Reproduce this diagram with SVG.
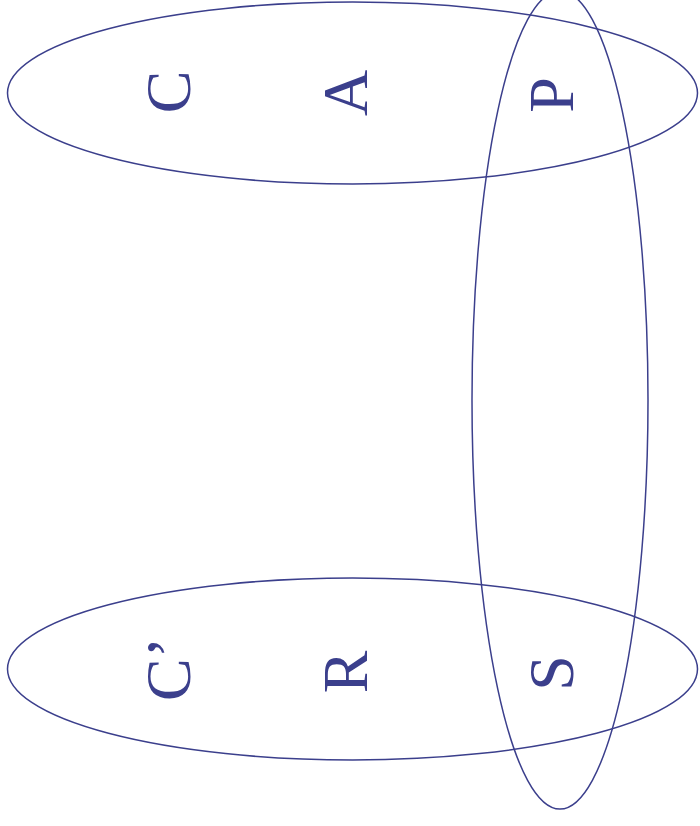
<svg xmlns="http://www.w3.org/2000/svg" width="700" height="826" viewBox="0 0 700 826">
<style>
.e{fill:none;stroke:#3b3f8c;stroke-width:1.5}
.t{font-family:"Liberation Serif","Times New Roman",serif;font-size:64px;fill:#3b3f8c;text-anchor:middle}
</style>
<rect width="700" height="826" fill="#fff"/>
<g id="top-set"><ellipse class="e" cx="352.5" cy="93" rx="345" ry="91"/></g>
<g id="bottom-set"><ellipse class="e" cx="352.5" cy="669" rx="345" ry="91"/></g>
<g id="vertical-set"><ellipse class="e" cx="560" cy="400" rx="88" ry="409"/></g>
<g id="C"><text class="t" transform="translate(190,92) rotate(-90)">C</text></g>
<g id="A"><text class="t" transform="translate(367,93) rotate(-90)">A</text></g>
<g id="P"><text class="t" transform="translate(573,95) rotate(-90)">P</text></g>
<g id="Cprime"><text class="t" transform="translate(190,669) rotate(-90)">C’</text></g>
<g id="R"><text class="t" transform="translate(367,672) rotate(-90)">R</text></g>
<g id="S"><text class="t" transform="translate(573,673) rotate(-90)">S</text></g>
</svg>
